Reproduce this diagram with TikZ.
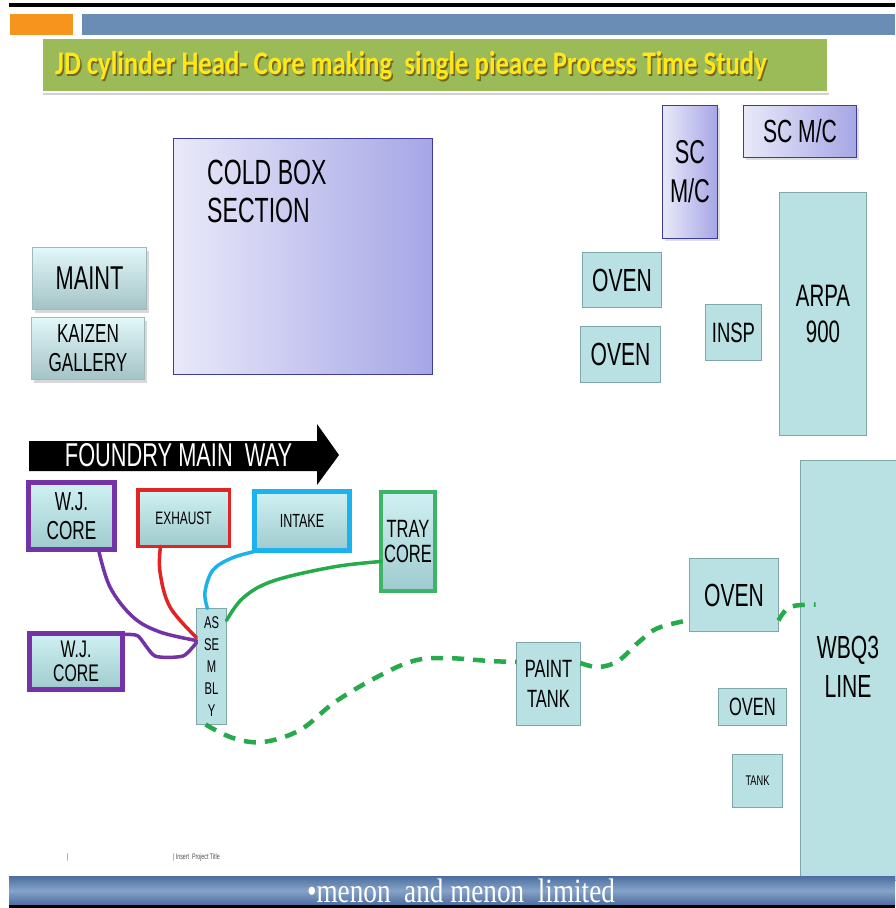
\documentclass[tikz,border=0pt]{standalone}
\usepackage{fontspec}
\usetikzlibrary{shadows}
\newfontfamily\labfont[FakeStretch=0.66]{Liberation Sans}
\newfontfamily\titlefont[FakeStretch=0.81]{Carlito}
\newfontfamily\footfont[FakeStretch=0.8]{Liberation Serif}
\newcommand{\fsz}[2]{\fontsize{#1}{#2}\selectfont}
\definecolor{cellfill}{HTML}{B9E0E3}
\definecolor{cellline}{HTML}{7FA6A9}
\definecolor{lavlight}{HTML}{E9E9F9}
\definecolor{lavdark}{HTML}{A6A6E6}
\definecolor{lavline}{HTML}{3C3C9C}
\definecolor{glosstop}{HTML}{E2F7F9}
\definecolor{glossbot}{HTML}{A3C3C6}
\definecolor{glossline}{HTML}{A0BABC}
\definecolor{coretop}{HTML}{D0F1F3}
\definecolor{corebot}{HTML}{9FCBCE}
\definecolor{wjpurple}{HTML}{7332A6}
\definecolor{exred}{HTML}{E42424}
\definecolor{inblue}{HTML}{1CB2EE}
\definecolor{trgreen}{HTML}{3DB466}
\definecolor{flowgreen}{HTML}{25AA4C}
\definecolor{titlegreen}{HTML}{9BBB59}
\definecolor{titleyellow}{HTML}{FFE81A}
\definecolor{titleglow}{HTML}{6B4A10}
\definecolor{barblue}{HTML}{6A8DB6}
\definecolor{barorange}{HTML}{F7941D}
\definecolor{footdark}{HTML}{4C6E9F}
\definecolor{footlight}{HTML}{86A3C8}
\begin{document}
\begin{tikzpicture}[x=1pt,y=-1pt,
  box/.style={anchor=north west, inner sep=0pt, outer sep=0pt, align=center, text=black},
  cell/.style={box, draw=cellline, fill=cellfill, line width=1.2pt},
  lav/.style={box, draw=lavline, left color=lavlight, right color=lavdark, line width=1.5pt,
     drop shadow={shadow xshift=2pt, shadow yshift=-2pt, opacity=0.25}},
  gloss/.style={box, draw=glossline, top color=glosstop, bottom color=glossbot, line width=1pt,
     drop shadow={shadow xshift=2pt, shadow yshift=-3pt, opacity=0.3}},
  core/.style={box, top color=coretop, bottom color=corebot, line width=#1,
     drop shadow={shadow xshift=2pt, shadow yshift=-2pt, opacity=0.25}},
  link/.style={line width=3.5pt, line cap=round, line join=round},
  flow/.style={draw=flowgreen, line width=4.5pt, dash pattern=on 12pt off 9pt},
]
\fill[white] (0,0) rectangle (895,908);
\useasboundingbox (0,0) rectangle (895,908);

% header strip
\fill[black] (9,3) rectangle (895,7);
\fill[barorange] (10,14) rectangle (73,35);
\fill[barblue] (82,14) rectangle (895,35);

% title banner
\node[box, draw=white, line width=1.5pt, fill=titlegreen, minimum width=786pt, minimum height=54pt,
  drop shadow={shadow xshift=1pt, shadow yshift=-3pt, opacity=0.35}] (title) at (42,38) {};
\node[anchor=west, inner sep=0pt, text=titleglow, opacity=0.75, font=\titlefont\bfseries\fsz{33}{33}] at (56.5,67.5)
  {JD cylinder Head- Core making\ \ single pieace Process Time Study};
\node[anchor=west, inner sep=0pt, text=titleyellow, font=\titlefont\bfseries\fsz{33}{33}] (titletext) at (55,66)
  {JD cylinder Head- Core making\ \ single pieace Process Time Study};

% upper floor area
\node[box, draw=lavline, left color=lavlight, right color=lavdark, line width=1.5pt,
  minimum width=259pt, minimum height=236pt] (coldbox) at (173.5,138.5) {};
\node[anchor=north west, align=left, inner sep=0pt, font=\labfont\fsz{35}{38}] (coldtext) at (207,160)
  {COLD BOX\\SECTION};

\node[gloss, minimum width=114pt, minimum height=62pt, font=\labfont\fsz{33}{33}] (maint) at (32.5,247.5) {MAINT};
\node[gloss, minimum width=113pt, minimum height=62pt, font=\labfont\fsz{26}{29}] (kaizen) at (31.5,317.5) {KAIZEN\\GALLERY};

\node[lav, minimum width=55pt, minimum height=133pt, font=\labfont\fsz{33}{39}] (scv) at (662.5,105.5) {SC\\M/C};
\node[lav, minimum width=113pt, minimum height=52pt, font=\labfont\fsz{32}{32}] (sch) at (743.5,105.5) {SC M/C};

\node[cell, minimum width=79pt, minimum height=55pt, font=\labfont\fsz{32}{32}] (oven1) at (582.5,252.5) {OVEN};
\node[cell, minimum width=80pt, minimum height=56pt, font=\labfont\fsz{32}{32}] (oven2) at (580.5,326.5) {OVEN};
\node[cell, minimum width=56pt, minimum height=56pt, font=\labfont\fsz{28}{28}] (insp) at (705.5,304.5) {INSP};
\node[cell, minimum width=87pt, minimum height=243pt, font=\labfont\fsz{31}{36}] (arpa) at (779.5,192.5) {ARPA\\900};

% main way arrow
\fill[black] (29,441) -- (317,441) -- (317,424) -- (339,455) -- (317,485) -- (317,471) -- (29,471) -- cycle;
\node[text=white, font=\labfont\fsz{33}{33}] (way) at (178.5,455) {FOUNDRY MAIN\ \ WAY};

% core stations
\node[core=5pt, draw=wjpurple, minimum width=86pt, minimum height=67pt, font=\labfont\fsz{26}{29}] (wj1) at (28.5,482.5) {W.J.\\CORE};
\node[core=3.5pt, draw=exred, minimum width=91.5pt, minimum height=56.5pt, font=\labfont\fsz{18}{18}] (exhaust) at (137.75,489.75) {EXHAUST};
\node[core=5pt, draw=inblue, minimum width=95pt, minimum height=59pt, font=\labfont\fsz{19}{19}] (intake) at (254.5,491.5) {INTAKE};
\node[core=4pt, draw=trgreen, minimum width=54pt, minimum height=99pt, font=\labfont\fsz{25}{25}] (tray) at (381,492) {TRAY\\CORE};
\node[core=5pt, draw=wjpurple, minimum width=93pt, minimum height=56pt, font=\labfont\fsz{24}{24}] (wj2) at (29.5,633.5) {W.J.\\CORE};
\node[cell, minimum width=30pt, minimum height=116pt, font=\labfont\fsz{17}{22}] (asm) at (196.5,608.5) {AS\\SE\\M\\BL\\Y};

% paint and drying line
\node[cell, minimum width=64pt, minimum height=83pt, font=\labfont\fsz{25}{30}] (paint) at (516.5,642.5) {PAINT\\TANK};
\node[cell, minimum width=89pt, minimum height=73pt, font=\labfont\fsz{32}{32}] (ovenb) at (689.5,558.5) {OVEN};
\node[cell, minimum width=68pt, minimum height=37pt, font=\labfont\fsz{25}{25}] (ovens) at (718.5,688.5) {OVEN};
\node[cell, minimum width=50pt, minimum height=53pt, font=\labfont\fsz{14}{14}] (tank) at (732.5,754.5) {TANK};
\node[cell, minimum width=100pt, minimum height=420pt] (wbq) at (800.5,460.5) {};
\node[align=center, inner sep=0pt, font=\labfont\fsz{32}{39}] (wbqtext) at (848,667) {WBQ3\\LINE};

% core feeds into assembly
\draw[link, wjpurple] plot[smooth, tension=0.6] coordinates {([xshift=27pt]wj1.south) (110,587) (133,617) (160,632) ([yshift=26pt]asm.west)};
\draw[link, wjpurple] plot[smooth, tension=0.4] coordinates {([yshift=-1pt]wj2.north east) (138,636) (155,656) (183,656) ([yshift=24pt]asm.west)};
\draw[link, exred] plot[smooth, tension=0.6] coordinates {([xshift=-23pt]exhaust.south) (160,572) (170,607) ([yshift=29pt]asm.west)};
\draw[link, inblue] plot[smooth, tension=0.6] coordinates {([yshift=-1pt]intake.south west) (232,558) (213,570) (205,592) ([xshift=-4pt]asm.north)};
\draw[link, flowgreen] plot[smooth, tension=0.6] coordinates {([yshift=-20pt]tray.west) (333,567) (273,581) (243,598) ([yshift=46pt]asm.east)};

% dashed flow to the line
\draw[flow] plot[smooth, tension=0.6] coordinates {([xshift=-6pt]asm.south) (233,738) (263,742) (300,730) (335,702) (377,677) (413,661) (445,658) (490,661) ([yshift=22pt]paint.west)};
\draw[flow] plot[smooth, tension=0.6] coordinates {([yshift=21pt]paint.east) (598,667) (618,661) (640,641) (658,628) ([yshift=-25pt]ovenb.west)};
\draw[flow] plot[smooth, tension=0.6] coordinates {([yshift=-62pt]ovenb.north east) (790,607) ([xshift=15pt,yshift=-144pt]wbq.north west)};

% footer
\node[anchor=west, inner sep=0pt, text=black!70, font=\labfont\fsz{8}{8}] (mark) at (67,857) {|};
\node[anchor=west, inner sep=0pt, text=black!70, font=\labfont\fsz{8}{8}] (project) at (173,857) {|\,Insert\ \ Project Title};
\shade[top color=footdark, bottom color=footdark, middle color=footlight] (9,876) rectangle (895,905);
\fill[black] (9,905) rectangle (895,908);
\node[anchor=base, inner sep=0pt, text=white, font=\footfont\fsz{34}{34}] (footer) at (461,902) {•menon\ \ and menon\ \ limited};
\end{tikzpicture}
\end{document}
